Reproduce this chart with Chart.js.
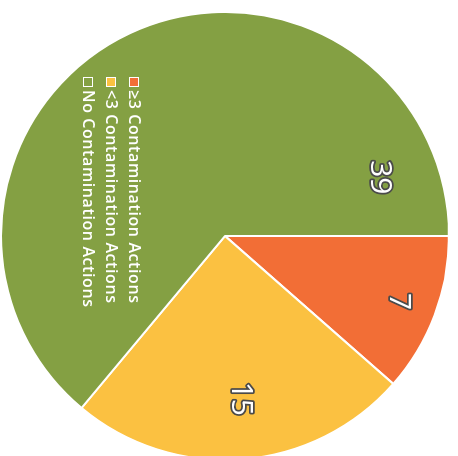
<!DOCTYPE html>
<html>
<head>
<meta charset="utf-8">
<title>Contamination Actions</title>
<script src="https://cdn.jsdelivr.net/npm/chart.js@4/dist/chart.umd.min.js"></script>
<style>
  html, body { margin: 0; padding: 0; background: #fff; overflow: hidden; width: 458px; height: 456px; }
  /* the chart is laid out upright, then turned a quarter turn clockwise */
  #frame { position: absolute; left: 0; top: 0; width: 470px; height: 458px;
           transform-origin: 0 0; transform: translateX(458px) rotate(90deg); }
  #c { display: block; }
</style>
</head>
<body>
<div id="frame"><canvas id="c" width="470" height="458" style="width:470px;height:458px"></canvas></div>
<script>
const categories = ['≥3 Contamination Actions', '<3 Contamination Actions', 'No Contamination Actions'];
const counts = [7, 15, 39];
const sliceColors = ['#F26E36', '#FBC141', '#84A043'];

// Writes each slice's count on the slice, white with a dark outline.
const sliceValueLabels = {
  id: 'sliceValueLabels',
  afterDatasetsDraw(chart, args, opts) {
    const ctx = chart.ctx;
    const meta = chart.getDatasetMeta(0);
    const values = chart.data.datasets[0].data;
    ctx.save();
    ctx.font = opts.font;
    ctx.textAlign = 'center';
    ctx.textBaseline = 'middle';
    ctx.lineJoin = 'round';
    meta.data.forEach((arc, i) => {
      const p = arc.getProps(['x', 'y', 'startAngle', 'endAngle', 'outerRadius'], true);
      const a = p.startAngle + (p.endAngle - p.startAngle) * opts.along[i];
      const r = p.outerRadius * opts.radial[i];
      const px = p.x + Math.cos(a) * r;
      const py = p.y + Math.sin(a) * r;
      const txt = String(values[i]);
      ctx.lineWidth = opts.strokeWidth;
      ctx.strokeStyle = opts.stroke;
      ctx.strokeText(txt, px, py);
      ctx.fillStyle = opts.color;
      ctx.fillText(txt, px, py);
    });
    ctx.restore();
  }
};

// Legend drawn inside the pie, in white.
const insetLegend = {
  id: 'insetLegend',
  afterDraw(chart, args, opts) {
    const ctx = chart.ctx;
    const area = chart.chartArea;
    const ds = chart.data.datasets[0];
    ctx.save();
    ctx.font = opts.font;
    ctx.letterSpacing = opts.letterSpacing;
    ctx.textBaseline = 'middle';
    ctx.textAlign = 'left';
    chart.data.labels.forEach((lab, i) => {
      const x = area.left + opts.left;
      const y = area.top + opts.top + i * opts.rowHeight;
      ctx.fillStyle = ds.backgroundColor[i];
      ctx.fillRect(x, y - opts.box / 2, opts.box, opts.box);
      ctx.strokeStyle = opts.boxBorder;
      ctx.lineWidth = 1;
      ctx.strokeRect(x + 0.5, y - opts.box / 2 + 0.5, opts.box - 1, opts.box - 1);
      ctx.fillStyle = opts.color;
      ctx.fillText(lab, x + opts.box + opts.gap, y);
    });
    ctx.restore();
  }
};

new Chart(document.getElementById('c'), {
  type: 'pie',
  data: {
    labels: categories,
    datasets: [{
      data: counts,
      backgroundColor: sliceColors,
      borderColor: '#FFFFFF',
      borderWidth: 2,
      radius: 224
    }]
  },
  options: {
    responsive: false,
    animation: false,
    rotation: 0,
    layout: { padding: { left: 2, right: 0, top: 8, bottom: 0 } },
    plugins: {
      legend: { display: false },
      tooltip: { enabled: false },
      sliceValueLabels: {
        font: '30px "Open Sans", sans-serif',
        color: '#FFFFFF',
        stroke: '#4A4A4A',
        strokeWidth: 3.5,
        along: [0.5, 0.49, 0.91],
        radial: [0.83, 0.73, 0.74]
      },
      insetLegend: {
        font: '600 16px "Open Sans", sans-serif',
        letterSpacing: '0.6px',
        color: '#FFFFFF',
        boxBorder: '#FFFFFF',
        left: 75,
        top: 316,
        rowHeight: 23,
        box: 10,
        gap: 3
      }
    }
  },
  plugins: [sliceValueLabels, insetLegend]
});
</script>
</body>
</html>
